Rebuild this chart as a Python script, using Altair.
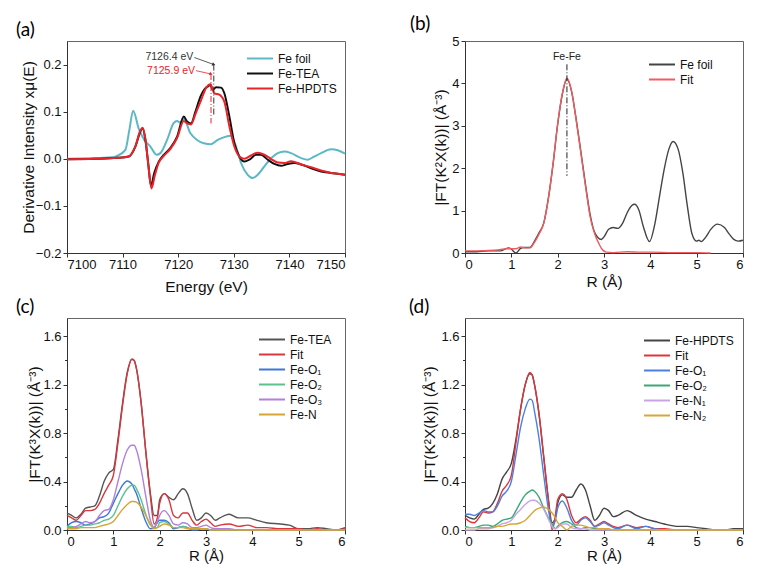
import altair as alt
import pandas as pd

# ---------------- Panel (a): derivative XANES ----------------
A_FOIL_E = [7100, 7104, 7108, 7109, 7110.5, 7111.2, 7111.9, 7112.9, 7113.9, 7115, 7116.1, 7116.8,
            7118, 7119.2, 7119.8, 7120.4, 7121, 7122.2, 7123.4, 7124.6, 7125.9, 7127.1, 7128.3,
            7129.5, 7130.4, 7131.3, 7132.5, 7133.4, 7134.3, 7135.5, 7136.7, 7137.9, 7139.1, 7140.3,
            7142.1, 7143.3, 7144.5, 7145.7, 7147.5, 7148.7, 7150]
A_FOIL_V = [0.0, 0.001, 0.003, 0.006, 0.019, 0.06, 0.102, 0.064, 0.04, 0.026, 0.0085, 0.012,
            0.04, 0.076, 0.08, 0.077, 0.085, 0.054, 0.04, 0.033, 0.031, 0.04, 0.046,
            0.049, 0.026, -0.009, -0.034, -0.041, -0.034, -0.016, 0.001, 0.012, 0.0155, 0.012,
            0.0015, -0.002, 0.005, 0.012, 0.02, 0.018, 0.011]

A_TEA_E = [7100, 7105, 7109, 7111.1, 7112.3, 7113.2, 7113.6, 7114.1, 7114.6, 7115.1, 7115.7, 7116.5,
           7117.4, 7118.6, 7119.8, 7121, 7121.6, 7122.3, 7123.1, 7124, 7124.9, 7125.3, 7125.8,
           7126.2, 7126.8, 7127.7, 7128.3, 7129.2, 7130.1, 7131, 7131.9, 7132.8, 7134, 7134.9,
           7136.1, 7137.3, 7138.5, 7139.7, 7140.9, 7142.1, 7143.9, 7145.7, 7147.5, 7148.7, 7150]
A_TEA_V = [-0.001, 0.0, 0.002, 0.005, 0.026, 0.058, 0.065, 0.04, -0.009, -0.057, -0.03, -0.006,
           0.008, 0.023, 0.047, 0.09, 0.079, 0.075, 0.1, 0.132, 0.15, 0.153, 0.157,
           0.146, 0.152, 0.151, 0.139, 0.09, 0.033, 0.005, -0.006, -0.002, 0.0085, 0.0085,
           -0.002, -0.011, -0.015, -0.011, -0.009, -0.012, -0.02, -0.027, -0.03, -0.032, -0.034]

A_HP_E = [7100, 7105, 7109, 7111.1, 7112.3, 7113.2, 7113.6, 7114.1, 7114.6, 7115.2, 7115.8, 7116.5,
          7117.4, 7118.6, 7119.8, 7121, 7121.6, 7122.3, 7123.1, 7124.1, 7125, 7125.8, 7126.5,
          7127.4, 7128.3, 7129.2, 7130.1, 7131, 7131.9, 7133.1, 7134.3, 7135.5, 7136.7, 7137.9,
          7139.1, 7140.3, 7142.1, 7143.9, 7145.7, 7147.5, 7148.7, 7150]
A_HP_V = [-0.001, 0.0, 0.002, 0.005, 0.027, 0.06, 0.066, 0.042, -0.01, -0.063, -0.035, -0.008,
          0.006, 0.021, 0.044, 0.08, 0.075, 0.073, 0.095, 0.124, 0.15, 0.158, 0.139,
          0.136, 0.121, 0.069, 0.026, 0.005, 0.0, 0.007, 0.013, 0.0085, -0.0005, -0.008,
          -0.009, -0.005, -0.012, -0.018, -0.025, -0.03, -0.032, -0.034]

A_NAMES = ["Fe foil", "Fe-TEA", "Fe-HPDTS"]
A_COLORS = ["#5cb8c4", "#111111", "#e8242a"]

A_MARK_TEXT = ["7126.4 eV", "7125.9 eV"]
A_MARK_E = [7126.4, 7125.9]
A_MARK_TOP = [0.2, 0.18]
A_MARK_BOT = [0.09, 0.075]
A_TEXT_E = [7122.9, 7123.2]
A_TEXT_Y = [0.215, 0.187]
A_MARK_COL = ["#333333", "#e8242a"]

# ---------------- Panel (b): Fe foil FT ----------------
B_FOIL_R = [0, 0.25, 0.5, 0.75, 0.8, 0.95, 1.0, 1.1, 1.2, 1.27, 1.4, 1.5, 1.6, 1.7, 1.8, 1.9, 2.0,
            2.1, 2.2, 2.3, 2.4, 2.5, 2.6, 2.7, 2.8, 2.94, 3.0, 3.1, 3.2, 3.3, 3.4, 3.5, 3.6, 3.66,
            3.75, 3.85, 3.98, 4.1, 4.2, 4.3, 4.4, 4.49, 4.6, 4.7, 4.8, 4.9, 5.0, 5.05, 5.1, 5.2,
            5.3, 5.45, 5.6, 5.7, 5.8, 5.9, 6.0]
B_FOIL_V = [0.03, 0.03, 0.05, 0.05, 0.06, 0.12, 0.09, 0.0, 0.11, 0.13, 0.13, 0.28, 0.48, 0.71, 1.3,
            2.09, 3.03, 3.74, 4.1, 3.81, 3.15, 2.4, 1.62, 0.91, 0.48, 0.32, 0.38, 0.56, 0.6, 0.58,
            0.7, 0.95, 1.12, 1.15, 1.02, 0.62, 0.27, 0.7, 1.35, 1.98, 2.45, 2.63, 2.45, 1.9, 1.1,
            0.45, 0.28, 0.3, 0.27, 0.38, 0.55, 0.68, 0.6, 0.45, 0.32, 0.28, 0.3]
B_FIT_R = [0, 0.25, 0.5, 0.75, 0.9, 1.0, 1.1, 1.2, 1.3, 1.4, 1.5, 1.6, 1.7, 1.8, 1.9, 2.0, 2.1,
           2.2, 2.3, 2.4, 2.5, 2.6, 2.7, 2.8, 2.9, 2.95, 3.05, 3.2, 3.5, 3.8, 4.0, 4.5, 5.0, 5.3]
B_FIT_V = [0.05, 0.05, 0.06, 0.08, 0.1, 0.1, 0.1, 0.14, 0.12, 0.12, 0.25, 0.45, 0.7, 1.28, 2.1,
           3.05, 3.76, 4.12, 3.82, 3.13, 2.36, 1.58, 0.86, 0.45, 0.2, 0.1, 0.02, 0.01, 0.03,
           0.02, 0.02, 0.01, 0.01, 0.0]
B_NAMES = ["Fe foil", "Fit"]
B_COLORS = ["#444444", "#f25b5f"]
B_MARK_TEXT = ["Fe-Fe"]
B_MARK_R = [2.2]
B_MARK_TOP = [4.45]
B_MARK_BOT = [1.82]
B_TEXT_Y = [4.62]

# ---------------- Panel (c): Fe-TEA FT fit ----------------
C_R = [0, 0.1, 0.2, 0.3, 0.4, 0.5, 0.6, 0.7, 0.8, 0.9, 1.0, 1.1, 1.2, 1.3, 1.4, 1.45, 1.5, 1.6,
       1.7, 1.8, 1.88, 1.95, 2.0, 2.1, 2.2, 2.3, 2.4, 2.5, 2.6, 2.7, 2.8, 2.9, 3.0, 3.1, 3.2,
       3.3, 3.5, 3.7, 3.9, 4.1, 4.3, 4.6, 4.8, 5.0, 5.2, 5.4, 5.6, 5.8, 6.0]
C_TEA = [0.14, 0.12, 0.1, 0.13, 0.18, 0.19, 0.2, 0.28, 0.4, 0.47, 0.5, 0.75, 1.05, 1.3, 1.41, 1.4,
         1.33, 1.05, 0.65, 0.3, 0.12, 0.12, 0.25, 0.3, 0.27, 0.25, 0.3, 0.34, 0.3, 0.18, 0.08,
         0.1, 0.14, 0.12, 0.08, 0.1, 0.13, 0.1, 0.1, 0.08, 0.06, 0.05, 0.04, 0.01, 0.01, 0.02,
         0.01, 0.0, 0.02]
C_FIT = [0.12, 0.1, 0.08, 0.12, 0.16, 0.16, 0.17, 0.22, 0.3, 0.37, 0.45, 0.72, 1.03, 1.29, 1.41,
         1.4, 1.33, 1.05, 0.65, 0.28, 0.05, 0.1, 0.22, 0.3, 0.25, 0.12, 0.1, 0.14, 0.14, 0.08,
         0.04, 0.07, 0.09, 0.06, 0.03, 0.04, 0.05, 0.03, 0.04, 0.02, 0.02, 0.01, 0.01, 0.01,
         0.0, 0.01, 0.0, 0.0, 0.01]
C_O1 = [0.03, 0.06, 0.07, 0.06, 0.04, 0.05, 0.07, 0.1, 0.11, 0.14, 0.22, 0.3, 0.37, 0.405, 0.38,
        0.34, 0.3, 0.18, 0.07, 0.01, 0.02, 0.06, 0.08, 0.08, 0.06, 0.01, 0.02, 0.03, 0.02, 0.0,
        0.0, 0.01, 0.01, 0.0, 0.0, 0.0, 0.0, 0.0, 0.0, 0.0, 0.0, 0.0, 0.0, 0.0, 0.0, 0.0, 0.0,
        0.0, 0.0]
C_O2 = [0.03, 0.03, 0.02, 0.03, 0.04, 0.04, 0.05, 0.06, 0.08, 0.09, 0.12, 0.2, 0.28, 0.34, 0.37,
        0.37, 0.34, 0.25, 0.13, 0.04, 0.02, 0.02, 0.06, 0.07, 0.05, 0.02, 0.02, 0.03, 0.02, 0.01,
        0.01, 0.01, 0.01, 0.0, 0.0, 0.0, 0.0, 0.0, 0.0, 0.0, 0.0, 0.0, 0.0, 0.0, 0.0, 0.0, 0.0,
        0.0, 0.0]
C_O3 = [0.02, 0.02, 0.03, 0.05, 0.07, 0.06, 0.07, 0.12, 0.16, 0.17, 0.25, 0.4, 0.55, 0.66, 0.7,
        0.7, 0.66, 0.5, 0.28, 0.08, 0.02, 0.07, 0.12, 0.16, 0.12, 0.05, 0.04, 0.06, 0.05, 0.02,
        0.02, 0.03, 0.04, 0.02, 0.01, 0.01, 0.01, 0.0, 0.0, 0.0, 0.0, 0.0, 0.0, 0.0, 0.0, 0.0,
        0.0, 0.0, 0.0]
C_N = [0.01, 0.01, 0.01, 0.02, 0.02, 0.02, 0.02, 0.03, 0.04, 0.05, 0.07, 0.12, 0.17, 0.21, 0.235,
       0.235, 0.23, 0.19, 0.12, 0.05, 0.01, 0.02, 0.03, 0.05, 0.04, 0.02, 0.02, 0.02, 0.01, 0.01,
       0.01, 0.01, 0.01, 0.0, 0.0, 0.0, 0.0, 0.0, 0.0, 0.0, 0.0, 0.0, 0.0, 0.0, 0.0, 0.0, 0.0,
       0.0, 0.0]
C_NAMES = ["Fe-TEA", "Fit", "Fe-O\u2081", "Fe-O\u2082", "Fe-O\u2083", "Fe-N"]
C_COLORS = ["#555555", "#d9363e", "#3b78d8", "#5cc08f", "#b27fd9", "#d4a534"]

# ---------------- Panel (d): Fe-HPDTS FT fit ----------------
D_R = [0, 0.1, 0.2, 0.3, 0.4, 0.5, 0.6, 0.7, 0.8, 0.9, 1.0, 1.1, 1.2, 1.3, 1.4, 1.45, 1.5, 1.6,
       1.7, 1.8, 1.88, 1.95, 2.0, 2.1, 2.2, 2.3, 2.4, 2.5, 2.6, 2.7, 2.8, 2.9, 3.0, 3.1, 3.2,
       3.3, 3.5, 3.7, 3.9, 4.1, 4.3, 4.6, 4.8, 5.0, 5.2, 5.4, 5.6, 5.8, 6.0]
D_HP = [0.12, 0.1, 0.09, 0.13, 0.17, 0.18, 0.22, 0.3, 0.42, 0.48, 0.55, 0.75, 1.0, 1.2, 1.29,
        1.28, 1.2, 0.95, 0.6, 0.25, 0.06, 0.1, 0.22, 0.29, 0.27, 0.27, 0.33, 0.38, 0.33, 0.2,
        0.08, 0.12, 0.18, 0.16, 0.11, 0.12, 0.16, 0.12, 0.09, 0.07, 0.05, 0.03, 0.03, 0.02,
        0.01, 0.0, 0.0, 0.01, 0.01]
D_FIT = [0.1, 0.07, 0.06, 0.1, 0.15, 0.14, 0.15, 0.22, 0.32, 0.37, 0.45, 0.72, 1.0, 1.2, 1.3,
         1.28, 1.2, 0.95, 0.6, 0.25, 0.0, 0.12, 0.25, 0.3, 0.25, 0.12, 0.06, 0.09, 0.11, 0.08,
         0.03, 0.05, 0.07, 0.05, 0.03, 0.02, 0.04, 0.02, 0.03, 0.01, 0.01, 0.0, 0.0, 0.0, 0.0,
         0.0, 0.0, 0.0, 0.0]
D_O1 = [0.13, 0.13, 0.12, 0.14, 0.16, 0.15, 0.15, 0.2, 0.28, 0.32, 0.4, 0.62, 0.85, 1.0, 1.08,
        1.07, 0.98, 0.75, 0.45, 0.17, 0.03, 0.08, 0.18, 0.24, 0.18, 0.08, 0.04, 0.08, 0.1, 0.07,
        0.03, 0.04, 0.06, 0.04, 0.02, 0.01, 0.04, 0.01, 0.03, 0.01, 0.0, 0.0, 0.0, 0.0, 0.0,
        0.0, 0.0, 0.0, 0.0]
D_O2 = [0.03, 0.02, 0.02, 0.03, 0.04, 0.04, 0.03, 0.05, 0.08, 0.09, 0.1, 0.16, 0.23, 0.29, 0.32,
        0.33, 0.32, 0.27, 0.18, 0.1, 0.05, 0.01, 0.03, 0.06, 0.07, 0.05, 0.02, 0.01, 0.02, 0.02,
        0.01, 0.01, 0.01, 0.0, 0.0, 0.0, 0.0, 0.0, 0.0, 0.0, 0.0, 0.0, 0.0, 0.0, 0.0, 0.0, 0.0,
        0.0, 0.0]
D_N1 = [0.0, 0.0, 0.0, 0.01, 0.01, 0.01, 0.02, 0.03, 0.05, 0.06, 0.08, 0.13, 0.17, 0.21, 0.24,
        0.245, 0.245, 0.22, 0.17, 0.09, 0.03, 0.01, 0.02, 0.05, 0.05, 0.02, 0.01, 0.01, 0.01,
        0.0, 0.0, 0.0, 0.0, 0.0, 0.0, 0.0, 0.0, 0.0, 0.0, 0.0, 0.0, 0.0, 0.0, 0.0, 0.0, 0.0,
        0.0, 0.0, 0.0]
D_N2 = [0.02, 0.02, 0.02, 0.02, 0.02, 0.02, 0.02, 0.03, 0.03, 0.04, 0.05, 0.05, 0.06, 0.08, 0.12,
        0.14, 0.16, 0.18, 0.19, 0.17, 0.14, 0.1, 0.06, 0.03, 0.0, 0.03, 0.04, 0.04, 0.03, 0.02,
        0.02, 0.01, 0.01, 0.01, 0.0, 0.0, 0.0, 0.0, 0.0, 0.0, 0.0, 0.0, 0.0, 0.0, 0.0, 0.0, 0.0,
        0.0, 0.0]
D_NAMES = ["Fe-HPDTS", "Fit", "Fe-O\u2081", "Fe-O\u2082", "Fe-N\u2081", "Fe-N\u2082"]
D_COLORS = ["#444444", "#e0343c", "#4a80e0", "#3aa876", "#c8a4e6", "#d9a637"]

# tick values (majors labelled, minors unlabelled)
A_XTICKS = [7100, 7105, 7110, 7115, 7120, 7125, 7130, 7135, 7140, 7145, 7150]
A_YTICKS = [-0.2, -0.15, -0.1, -0.05, 0.0, 0.05, 0.1, 0.15, 0.2]
R_TICKS = [0, 0.5, 1, 1.5, 2, 2.5, 3, 3.5, 4, 4.5, 5, 5.5, 6]
B_YTICKS = [0, 0.5, 1, 1.5, 2, 2.5, 3, 3.5, 4, 4.5, 5]
CD_YTICKS = [0, 0.2, 0.4, 0.6, 0.8, 1.0, 1.2, 1.4, 1.6]

FONT = "Liberation Sans"
W, H = 278, 212


def long_df(pairs):
    rows = []
    for order, (name, xs, ys) in enumerate(pairs):
        for x, y in zip(xs, ys):
            rows.append({"x": x, "y": y, "series": name, "o": order})
    return pd.DataFrame(rows)


def lines(df, names, colors, xscale, yscale, xaxis, yaxis, legx, legy, sw):
    return alt.Chart(df).mark_line(strokeWidth=sw, interpolate="monotone").encode(
        x=alt.X("x:Q", scale=xscale, axis=xaxis),
        y=alt.Y("y:Q", scale=yscale, axis=yaxis),
        color=alt.Color("series:N", sort=names,
                        scale=alt.Scale(domain=names, range=colors),
                        legend=alt.Legend(orient="none", legendX=legx, legendY=legy, title=None,
                                          symbolType="M-1,0H3", symbolStrokeWidth=2,
                                          symbolSize=169, labelFont=FONT, labelFontSize=12,
                                          labelColor="#111", padding=0, rowPadding=1,
                                          labelOffset=17)),
        detail="o:O",
        order=alt.Order("o:Q"),
    )


def minor_test(step):
    return f"abs(datum.value/{step} - round(datum.value/{step})) > 0.001"


def xaxis(values, step, title, ty, fmt, tfs=15.5):
    t = minor_test(step)
    return alt.Axis(values=values, title=title, titleY=ty, titleBaseline="middle",
                    titleFontSize=tfs,
                    tickSize={"condition": {"test": t, "value": 2.5}, "value": 4},
                    labelExpr=f"{t} ? '' : datum.label", format=fmt,
                    labelPadding=1, grid=False)


def yaxis(values, step, title, tx, fmt):
    t = minor_test(step)
    return alt.Axis(values=values, title=title, titleX=tx, titleBaseline="middle",
                    titleAngle=270,
                    tickSize={"condition": {"test": t, "value": 2.5}, "value": 4},
                    labelExpr=f"{t} ? '' : datum.label",
                    labelPadding=2, grid=False, format=fmt)


def title(txt, dx):
    return alt.TitleParams(text=txt, anchor="start", frame="group", dx=dx, offset=1,
                           font="Lato", fontSize=19, fontWeight="normal", color="#000")


# ---- (a)
df_a = long_df([(A_NAMES[0], A_FOIL_E, A_FOIL_V), (A_NAMES[1], A_TEA_E, A_TEA_V),
                (A_NAMES[2], A_HP_E, A_HP_V)])
xs_a = alt.Scale(domain=[7100, 7150], nice=False)
ys_a = alt.Scale(domain=[-0.2, 0.25], nice=False)
la = lines(df_a, A_NAMES, A_COLORS, xs_a, ys_a,
           xaxis(A_XTICKS, 10, "Energy (eV)", 33, "d"),
           yaxis(A_YTICKS, 0.1, "Derivative Intensity x\u03bc(E)", -38.5, ".1f"),
           179, 10, 2)
mk_a = pd.DataFrame({"x": A_MARK_E, "top": A_MARK_TOP, "bot": A_MARK_BOT, "c": A_MARK_COL,
                     "tx": A_TEXT_E, "ty": A_TEXT_Y, "t": A_MARK_TEXT})
vr_a = alt.Chart(mk_a).mark_rule(strokeWidth=1, strokeDash=[6, 2, 1, 2]).encode(
    x="x:Q", y="top:Q", y2="bot:Q", color=alt.Color("c:N", scale=None))
ar_a = alt.Chart(mk_a).mark_rule(strokeWidth=0.8).encode(
    x="tx:Q", x2="x:Q", y="ty:Q", y2="top:Q", color=alt.Color("c:N", scale=None))
tx_a = alt.Chart(mk_a).mark_text(align="right", dx=-1, font=FONT, fontSize=10.5).encode(
    x="tx:Q", y="ty:Q", text="t:N", color=alt.Color("c:N", scale=None))
pt_a = alt.Chart(mk_a).mark_point(shape="triangle-right", filled=True, size=14, angle=20,
                                  opacity=1).encode(
    x="x:Q", y="top:Q", color=alt.Color("c:N", scale=None))
panel_a = alt.layer(la, vr_a, ar_a, tx_a, pt_a).properties(width=W, height=H,
                                                           title=title("(a)", -51))

# ---- (b)
df_b = long_df([(B_NAMES[0], B_FOIL_R, B_FOIL_V), (B_NAMES[1], B_FIT_R, B_FIT_V)])
xs_r = alt.Scale(domain=[0, 6], nice=False)
lb = lines(df_b, B_NAMES, B_COLORS, xs_r, alt.Scale(domain=[0, 5], nice=False),
           xaxis(R_TICKS, 1, "R (\u00c5)", 28, "d"),
           yaxis(B_YTICKS, 1, "|FT(K\u00b2X(k))| (\u00c5\u207b\u00b3)", -25, "d"),
           183, 16, 1.4)
mk_b = pd.DataFrame({"x": B_MARK_R, "top": B_MARK_TOP, "bot": B_MARK_BOT, "ty": B_TEXT_Y,
                     "t": B_MARK_TEXT})
vr_b = alt.Chart(mk_b).mark_rule(strokeWidth=1, strokeDash=[6, 2, 1, 2], color="#222").encode(
    x="x:Q", y="top:Q", y2="bot:Q")
tx_b = alt.Chart(mk_b).mark_text(font=FONT, fontSize=10.5, color="#222").encode(
    x="x:Q", y="ty:Q", text="t:N")
panel_b = alt.layer(lb, vr_b, tx_b).properties(width=W, height=H, title=title("(b)", -55))

# ---- (c)
df_c = long_df([(C_NAMES[0], C_R, C_TEA), (C_NAMES[1], C_R, C_FIT), (C_NAMES[2], C_R, C_O1),
                (C_NAMES[3], C_R, C_O2), (C_NAMES[4], C_R, C_O3), (C_NAMES[5], C_R, C_N)])
ys_c = alt.Scale(domain=[0, 1.75], nice=False)
panel_c = lines(df_c, C_NAMES, C_COLORS, xs_r, ys_c,
                xaxis(R_TICKS, 1, "R (\u00c5)", 25, "d", 15),
                yaxis(CD_YTICKS, 0.4, "|FT(K\u00b3X(k))| (\u00c5\u207b\u00b3)", -33, ".1f"),
                191, 14, 1.4).properties(width=W, height=H, title=title("(c)", -51))

# ---- (d)
df_d = long_df([(D_NAMES[0], D_R, D_HP), (D_NAMES[1], D_R, D_FIT), (D_NAMES[2], D_R, D_O1),
                (D_NAMES[3], D_R, D_O2), (D_NAMES[4], D_R, D_N1), (D_NAMES[5], D_R, D_N2)])
panel_d = lines(df_d, D_NAMES, D_COLORS, xs_r, ys_c,
                xaxis(R_TICKS, 1, "R (\u00c5)", 25, "d", 15),
                yaxis(CD_YTICKS, 0.4, "|FT(K\u00b2X(k))| (\u00c5\u207b\u00b3)", -36, ".1f"),
                178, 15, 1.4).properties(width=W, height=H, title=title("(d)", -56))

chart = alt.concat(panel_a, panel_b, panel_c, panel_d, columns=2,
                   spacing={"row": 65, "column": 120}, bounds="flush").resolve_scale(
    x="independent", y="independent", color="independent"
).properties(
    padding={"left": 7, "top": 6, "right": 5, "bottom": 0},
    background="white",
).configure_view(stroke="#666", strokeWidth=1).configure_axis(
    labelFont=FONT, labelFontSize=13, labelColor="#111", titleFont=FONT, titleFontSize=15.5,
    titleFontWeight="normal", titleColor="#111", domainColor="#333", tickColor="#333",
)

chart.save("out.html", embed_options={"renderer": "svg", "actions": False})
